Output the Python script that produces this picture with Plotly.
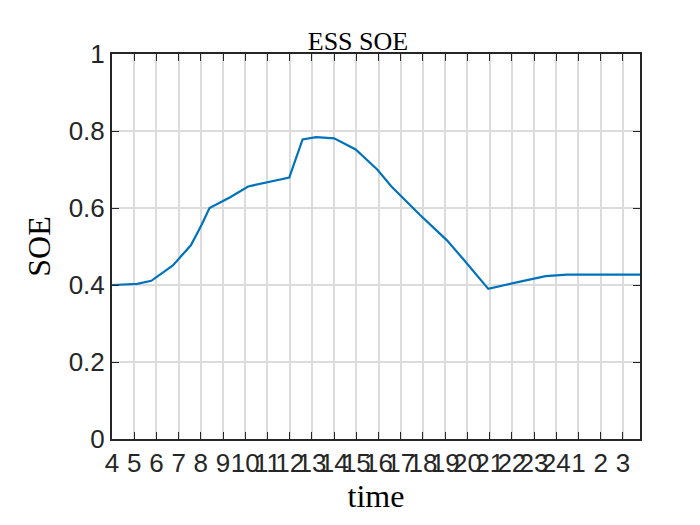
import plotly.graph_objects as go

hours = [0, 1.13, 1.77, 2.74, 3.55, 4.03, 4.39, 5.32, 6.13, 7.1, 7.98, 8.58, 9.19, 10.0,
         10.97, 11.94, 12.58, 13.87, 15.08, 15.8, 16.94, 18.06, 19.52, 20.48, 23.77]
soe = [0.400, 0.403, 0.411, 0.451, 0.503, 0.556, 0.600, 0.628, 0.656, 0.669, 0.679, 0.778,
       0.784, 0.781, 0.752, 0.700, 0.656, 0.582, 0.516, 0.468, 0.390, 0.405, 0.423, 0.427, 0.427]
tick_labels = [str(h) for h in list(range(4, 25)) + [1, 2, 3]]
tick_vals = list(range(len(tick_labels)))

fig = go.Figure(go.Scatter(x=hours, y=soe, mode="lines",
                           line=dict(color="#0072BD", width=2.2), showlegend=False))
fig.update_layout(
    width=700, height=525, plot_bgcolor="white", paper_bgcolor="white",
    margin=dict(l=104, r=68, t=46, b=94),
    title=dict(text="ESS SOE", x=0.5, xanchor="center", y=0.955,
               font=dict(family="Liberation Serif", size=26, color="black")),
)
axis_common = dict(showline=True, linecolor="#262626", linewidth=2, mirror="ticks",
                   ticks="inside", ticklen=7, tickcolor="#262626",
                   showgrid=True, gridcolor="#DCDCDC", gridwidth=1.5, zeroline=False,
                   tickfont=dict(family="Liberation Sans", size=26, color="#262626"))
fig.update_xaxes(range=[0, 23.77], tickvals=tick_vals, ticktext=tick_labels, tickangle=0,
                 automargin=False,
                 title=dict(text="time", standoff=6,
                            font=dict(family="Liberation Serif", size=32, color="black")),
                 **axis_common)
fig.update_yaxes(range=[0, 1], tickvals=[0, 0.2, 0.4, 0.6, 0.8, 1],
                 ticktext=["0", "0.2", "0.4", "0.6", "0.8", "1"], automargin=False,
                 title=dict(text="SOE", standoff=8,
                            font=dict(family="Liberation Serif", size=32, color="black")),
                 **axis_common)
fig.write_html("out.html")
